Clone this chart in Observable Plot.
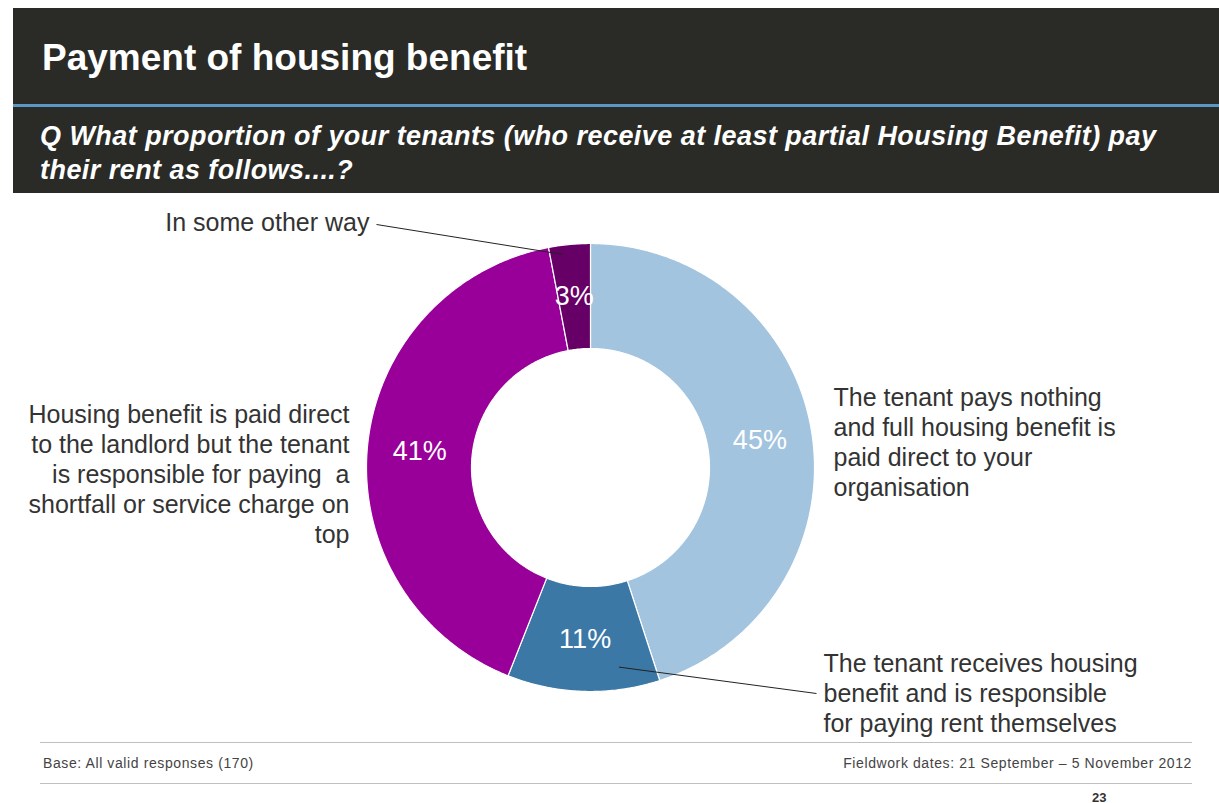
<!DOCTYPE html>
<html>
<head>
<meta charset="utf-8">
<script src="https://cdn.jsdelivr.net/npm/d3@7"></script>
<script src="https://cdn.jsdelivr.net/npm/@observablehq/plot@0.6"></script>
<style>
  html, body { margin: 0; padding: 0; background: #fff; }
  body { width: 1219px; height: 803px; position: relative; overflow: hidden; font-family: "Liberation Sans", Arial, sans-serif; }
  #header { position: absolute; left: 13px; top: 8px; width: 1206px; height: 185px; background: #2a2a26; }
  #title { position: absolute; left: 29px; top: 31px; color: #fff; font-size: 37px; font-weight: bold; line-height: 37px; white-space: nowrap; }
  #rule { position: absolute; left: 0; top: 96px; width: 100%; height: 3px; background: #5b98c6; }
  #subtitle { position: absolute; left: 27px; top: 111px; width: 1175px; color: #fff; font-size: 27px; font-weight: bold; font-style: italic; line-height: 34px; letter-spacing: 0.45px; white-space: nowrap; }
  #chart { position: absolute; left: 0; top: 195px; }
  .hr { position: absolute; left: 40px; width: 1152px; height: 1px; background: #c0c0c0; }
  .foot { position: absolute; top: 756px; font-size: 14px; line-height: 14px; letter-spacing: 0.6px; color: #444; white-space: nowrap; }
  #page { position: absolute; left: 1092px; top: 791px; font-size: 13px; line-height: 13px; font-weight: bold; color: #333; }
</style>
</head>
<body>
<div id="header">
  <div id="title">Payment of housing benefit</div>
  <div id="rule"></div>
  <div id="subtitle">Q What proportion of your tenants (who receive at least partial Housing Benefit) pay<br>their rent as follows....?</div>
</div>
<div id="chart"></div>
<div class="hr" style="top:742px"></div>
<div class="foot" style="left:43px">Base: All valid responses (170)</div>
<div class="foot" style="right:27px">Fieldwork dates: 21 September – 5 November 2012</div>
<div class="hr" style="top:783px"></div>
<div id="page">23</div>
<script>
// ---- data ----
const keys = ["Pays nothing", "Receives HB, pays rent", "Paid to landlord, tenant pays shortfall", "Other way"];
const values = [45, 11, 41, 3];
const pctLabels = ["45%", "11%", "41%", "3%"];
const categoryLabels = [
  "The tenant pays nothing\nand full housing benefit is\npaid direct to your\norganisation",
  "The tenant receives housing\nbenefit and is responsible\nfor paying rent themselves",
  "Housing benefit is paid direct\nto the landlord but the tenant\nis responsible for paying\u00a0 a\nshortfall or service charge on\ntop",
  "In some other way"
];
const colors = ["#a3c4de", "#3b78a6", "#990099", "#660066"];

// ---- layout ----
const R = 224, r = 119;
const total = d3.sum(values);
let acc = 0;
const slices = values.map((v, i) => {
  const a0 = acc / total * 2 * Math.PI;
  acc += v;
  const a1 = acc / total * 2 * Math.PI;
  return {key: keys[i], value: v, a0, a1, i};
});
const pt = (a, rad) => ({x: rad * Math.sin(a), y: rad * Math.cos(a)});

const poly = [];
for (const s of slices) {
  const n = Math.max(4, Math.ceil((s.a1 - s.a0) / 0.01));
  const ring = [];
  for (let k = 0; k <= n; k++) ring.push(pt(s.a0 + (s.a1 - s.a0) * k / n, R));
  for (let k = n; k >= 0; k--) ring.push(pt(s.a0 + (s.a1 - s.a0) * k / n, r));
  ring.push(ring[0]);
  for (const p of ring) poly.push({...p, key: s.key});
}

const mid = slices.map(s => ({...pt((s.a0 + s.a1) / 2, (R + r) / 2), label: pctLabels[s.i], i: s.i}));

// category label anchors (layout)
const catPos = [
  {x: 243, y: 26, anchor: "start"},
  {x: 233, y: -225, anchor: "start"},
  {x: -241, y: -6, anchor: "end"},
  {x: -221, y: 246, anchor: "end"}
];
const cats = catPos.map((p, i) => ({...p, text: categoryLabels[i]}));

// leader lines: from label to a point inside the slice
const leaders = [
  {from: {x: -214, y: 243}, s: slices[3], f: 0.3, rad: 0.96 * R},
  {from: {x: 226, y: -226}, s: slices[1], f: 0.25, rad: 0.9 * R}
].map(d => {
  const p = pt(d.s.a0 + (d.s.a1 - d.s.a0) * d.f, d.rad);
  return {x1: d.from.x, y1: d.from.y, x2: p.x, y2: p.y};
});

const chart = Plot.plot({
  width: 1219,
  height: 545,
  margin: 0,
  x: {domain: [-590, 629], axis: null},
  y: {domain: [-273, 272], axis: null},
  color: {domain: keys, range: colors},
  style: {fontFamily: "'Liberation Sans', Arial, sans-serif", background: "transparent"},
  marks: [
    Plot.line(poly, {x: "x", y: "y", z: "key", fill: "key", stroke: "#fff", strokeWidth: 1.2, curve: "linear"}),
    Plot.text(mid, {x: "x", y: "y", text: "label", fill: "#fff", fontSize: 27}),
    Plot.link(leaders, {x1: "x1", y1: "y1", x2: "x2", y2: "y2", stroke: "#222", strokeWidth: 1}),
    Plot.text(cats.filter(d => d.anchor === "start"), {x: "x", y: "y", text: "text", textAnchor: "start", lineAnchor: "middle", lineHeight: 1.2, fontSize: 25, fill: "#333"}),
    Plot.text(cats.filter(d => d.anchor === "end"), {x: "x", y: "y", text: "text", textAnchor: "end", lineAnchor: "middle", lineHeight: 1.2, fontSize: 25, fill: "#333"})
  ]
});
document.getElementById("chart").appendChild(chart);
</script>
</body>
</html>
